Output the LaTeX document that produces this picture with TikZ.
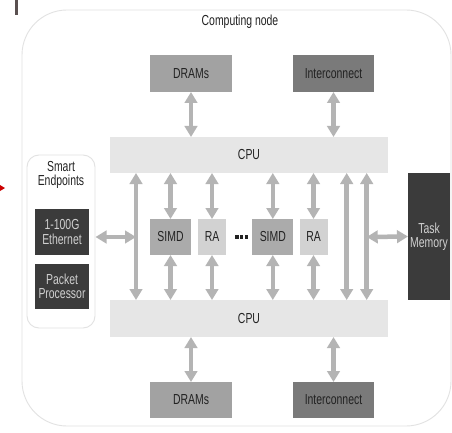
\documentclass[tikz,border=0pt]{standalone}
\usepackage{fontspec}
\setmainfont[FakeStretch=0.72]{Liberation Sans}
\usetikzlibrary{arrows.meta}
\definecolor{cpugray}{HTML}{E6E6E6}
\definecolor{dramgray}{HTML}{A2A2A2}
\definecolor{icgray}{HTML}{7A7A7A}
\definecolor{simdgray}{HTML}{ABABAB}
\definecolor{ragray}{HTML}{D2D2D2}
\definecolor{darkbox}{HTML}{3B3B3B}
\definecolor{arrowgray}{HTML}{B4B4B4}
\definecolor{textdark}{HTML}{222222}
\definecolor{textlight}{HTML}{D0D0D0}
\definecolor{outline}{HTML}{E2E2E2}
\definecolor{stray}{HTML}{5A5050}
\tikzset{
  box/.style={inner sep=0pt, outer sep=0pt, font=\fontsize{14.5}{15.5}\selectfont, text=textdark, align=center},
  cpubar/.style={box, fill=cpugray, minimum width=278pt, minimum height=36pt},
  mem/.style={box, minimum width=82pt, minimum height=37pt},
  unit/.style={box, minimum height=36pt},
  darkunit/.style={box, fill=darkbox, text=textlight},
  dot/.style={fill=textdark},
  dblarrow/.style={draw=arrowgray, line width=4.5pt,
    {Triangle[width=12.5pt,length=11pt]}-{Triangle[width=12.5pt,length=11pt]}},
}
\begin{document}
\begin{tikzpicture}[x=1pt,y=-1pt]
\useasboundingbox (0,0) rectangle (452,433);
\fill[white] (0,0) rectangle (452,433);
% stray marks at the left edge
\fill[stray] (15,0) rectangle (17.5,15);
\fill[red!80!black] (0,185) -- (5,188) -- (0,191) -- cycle;
% outer frame
\draw[outline, line width=0.9pt, rounded corners=45pt] (22,10) rectangle (451,426);
\node[box] (title) at (240,22) {Computing node};
% memories
\node[mem, fill=dramgray] (dramT) at (191,73.5) {DRAMs};
\node[mem, fill=icgray, minimum width=81pt] (icT) at (333.5,73.5) {Interconnect};
\node[mem, fill=dramgray, minimum height=36pt] (dramB) at (191,400) {DRAMs};
\node[mem, fill=icgray, minimum width=81pt, minimum height=36pt] (icB) at (333.5,400) {Interconnect};
% CPUs
\node[cpubar] (cpuT) at (249,155) {CPU};
\node[cpubar, minimum height=37pt] (cpuB) at (249,318.5) {CPU};
% smart endpoints
\draw[outline, line width=0.9pt, rounded corners=12pt] (27,155) rectangle (95,328);
\node[box] (se) at (61,175) {Smart\\[-1pt]Endpoints};
\coordinate (seE) at (95.5,237);
\node[darkunit, minimum width=54pt, minimum height=46pt] (eth) at (62,232) {1-100G\\[-1pt]Ethernet};
\node[darkunit, minimum width=54pt, minimum height=45pt] (pp) at (62,286.5) {Packet\\[-1pt]Processor};
% processing units
\node[unit, fill=simdgray, minimum width=41pt] (simd1) at (170.5,237) {SIMD};
\node[unit, fill=ragray, minimum width=28pt] (ra1) at (212,237) {RA};
\coordinate (dots) at (241.5,237);
\foreach \dx in {-4.6,0,4.6}{
  \fill[dot] ([shift={(\dx-1.6,-1.6)}]dots) rectangle ([shift={(\dx+1.6,1.6)}]dots);
}
\node[unit, fill=simdgray, minimum width=41pt] (simd2) at (272.8,237) {SIMD};
\node[unit, fill=ragray, minimum width=28pt] (ra2) at (313.5,237) {RA};
% task memory
\node[darkunit, minimum width=42pt, minimum height=127pt] (task) at (429,236.5) {Task\\[-1pt]Memory};
% bus coordinates
\coordinate (busL) at (136,237);
\coordinate (busM) at (346.7,237);
\coordinate (busR) at (366.7,237);
% arrows memories <-> CPUs
\draw[dblarrow] (dramT.south) -- (dramT.south |- cpuT.north);
\draw[dblarrow] (icT.south) -- (icT.south |- cpuT.north);
\draw[dblarrow] (dramB.north |- cpuB.south) -- (dramB.north);
\draw[dblarrow] (icB.north |- cpuB.south) -- (icB.north);
% arrows CPU <-> units
\foreach \u in {simd1,ra1,simd2,ra2}{
  \draw[dblarrow] (\u.north |- cpuT.south) -- (\u.north);
  \draw[dblarrow] (\u.south) -- (\u.south |- cpuB.north);
}
% long bus arrows
\draw[dblarrow] (busL |- cpuT.south) -- (busL |- cpuB.north);
\draw[dblarrow] (busM |- cpuT.south) -- (busM |- cpuB.north);
\draw[dblarrow] (busR |- cpuT.south) -- (busR |- cpuB.north);
% side arrows
\draw[dblarrow] (seE) -- (busL);
\draw[dblarrow] (busR) -- (task.west);
\end{tikzpicture}
\end{document}
